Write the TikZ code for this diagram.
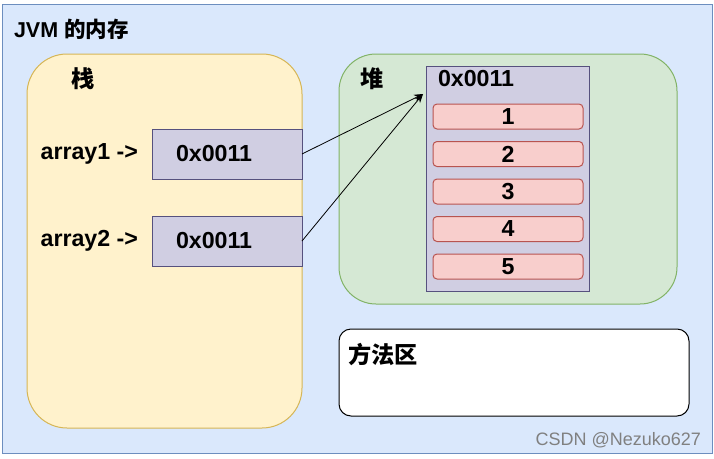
\documentclass[tikz,border=0pt]{standalone}
\usepackage{fontspec}
\setmainfont{Liberation Sans}
\newfontfamily\cjk{Noto Sans CJK SC}
\usepackage{tikz}
\usetikzlibrary{positioning, arrows.meta}
\definecolor{jvmfill}{HTML}{DAE8FC}
\definecolor{jvmline}{HTML}{6C8EBF}
\definecolor{stackfill}{HTML}{FFF2CC}
\definecolor{stackline}{HTML}{D6B656}
\definecolor{heapfill}{HTML}{D5E8D4}
\definecolor{heapline}{HTML}{82B366}
\definecolor{addrfill}{HTML}{D0CEE2}
\definecolor{addrline}{HTML}{56517E}
\definecolor{cellfill}{HTML}{F8CECC}
\definecolor{cellline}{HTML}{B85450}

\begin{document}
\begin{tikzpicture}[x=1pt, y=-1pt, line width=1pt, outer sep=0pt,
		font=\fontsize{23.2}{27}\selectfont\bfseries,
		zone/.style={draw, anchor=north west, inner sep=0},
		addr/.style={draw=addrline, fill=addrfill, anchor=north west, minimum height=50pt, text width=102pt, inner xsep=24pt, inner ysep=0, align=left},
		cell/.style={draw=cellline, fill=cellfill, rounded corners=4pt, minimum width=150pt, minimum height=25pt, inner sep=0},
		lbl/.style={inner sep=0, anchor=west}]
				\fill[white] (0,0) rectangle (714,458);
				\useasboundingbox (0,0) rectangle (714,458);
				% regions
				\node[zone, draw=jvmline, fill=jvmfill, minimum width=710pt, minimum height=449pt] (jvm) at (2,4) {};
				\node[zone, draw=stackline, fill=stackfill, rounded corners=40pt, minimum width=275pt, minimum height=374pt] (stack) at (27,54) {};
				\node[zone, draw=heapline, fill=heapfill, rounded corners=37pt, minimum width=338pt, minimum height=250pt] (heap) at (339,54) {};
				\node[zone, draw=black, fill=white, rounded corners=12pt, minimum width=350pt, minimum height=87pt] (method) at (339,329) {};
				\node[lbl] (jvmlbl) at (14,29) {\fontsize{21.5}{25}\selectfont JVM {\cjk 的内存}};
				\node[lbl] (stacklbl) at (71,79) {\cjk 栈};
				\node[lbl] (heaplbl) at (360,79) {\cjk 堆};
				\node[lbl] (methodlbl) at (348,355) {\cjk 方法区};
				% stack
				\node[addr] (a1) at (152,129) {0x0011};
				\node[addr] (a2) [below=37pt of a1] {0x0011};
				\node[lbl, anchor=east] (a1lbl) [left=14pt of a1] {array1 ->};
				\node[lbl, anchor=east] (a2lbl) [left=14pt of a2] {array2 ->};
				% heap
				\node[zone, draw=addrline, fill=addrfill, minimum width=163pt, minimum height=225pt] (arr) at (426,66) {};
				\node[lbl] (arrlbl) at (438,79) {0x0011};
				\node[cell, anchor=north] (c1) at (508,104) {1};
				\node[cell] (c2) [below=12.5pt of c1] {2};
				\node[cell] (c3) [below=12.5pt of c2] {3};
				\node[cell] (c4) [below=12.5pt of c3] {4};
				\node[cell] (c5) [below=12.5pt of c4] {5};
				\coordinate (ref) at (423,94);
				\path[-{Stealth[length=9pt,width=7pt]}, line width=0.8pt]
				(a1.east) edge (ref)
				(a2.east) edge (ref);
				\node[inner sep=0, anchor=east, text=gray, font=\fontsize{18}{22}\selectfont] (mark) at (701,440) {CSDN @Nezuko627};
			\end{tikzpicture}
\end{document}
